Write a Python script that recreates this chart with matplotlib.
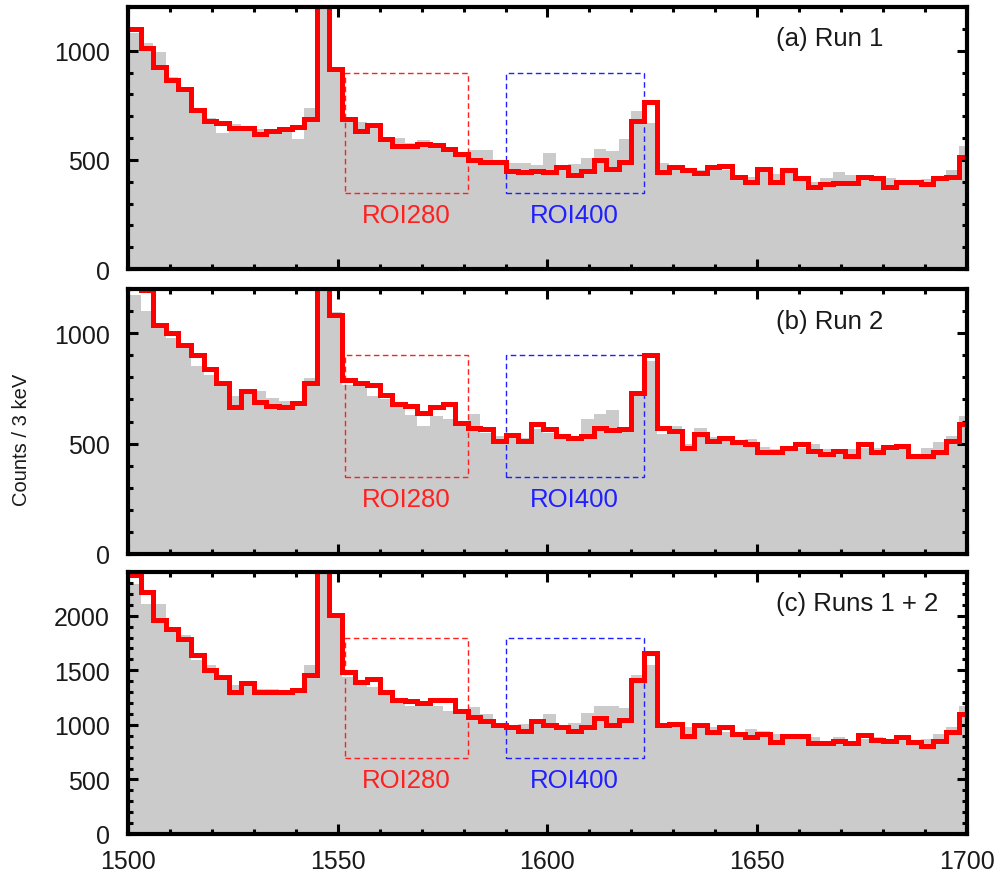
import numpy as np
import matplotlib
matplotlib.use("Agg")
import matplotlib.pyplot as plt
from matplotlib.ticker import MultipleLocator
from matplotlib.patches import Rectangle

plt.rcParams['font.family'] = ['Liberation Sans', 'DejaVu Sans']

# 3 keV bins from 1500 keV
edges = np.arange(1500, 1702, 3)

# Run 1
red_a = [1100, 1010, 925, 865, 825, 730, 680, 670, 645, 645, 618, 632, 643, 651, 685,
         1600, 915, 689, 632, 660, 595, 565, 565, 572, 568, 550, 527, 500, 490, 490,
         450, 442, 450, 442, 465, 430, 450, 497, 457, 490, 677, 765, 445, 467, 455,
         440, 467, 470, 422, 400, 460, 400, 452, 415, 377, 390, 392, 392, 420, 415,
         377, 400, 400, 390, 415, 422, 515]
gray_a = [1080, 1037, 995, 880, 835, 738, 692, 625, 662, 655, 640, 618, 632, 595, 738,
          1700, 910, 682, 675, 652, 592, 600, 578, 590, 572, 535, 520, 545, 545, 497,
          485, 485, 475, 532, 475, 482, 510, 550, 540, 595, 725, 670, 485, 460, 440,
          452, 475, 452, 415, 422, 460, 437, 452, 422, 400, 415, 445, 430, 422, 425,
          415, 400, 400, 410, 410, 455, 565]

# Run 2
red_b = [1250, 1195, 1037, 1000, 947, 900, 840, 775, 665, 737, 690, 670, 665, 685, 775,
         1600, 1082, 790, 775, 765, 722, 680, 670, 640, 665, 680, 595, 572, 565, 512,
         540, 512, 590, 565, 535, 525, 535, 572, 560, 565, 730, 900, 572, 557, 482,
         542, 512, 525, 505, 500, 460, 460, 482, 500, 467, 455, 467, 445, 500, 460,
         485, 490, 445, 445, 460, 512, 587]
gray_b = [1172, 1100, 1022, 977, 955, 850, 812, 767, 715, 745, 737, 707, 692, 692, 797,
          1700, 1097, 767, 760, 715, 700, 670, 630, 580, 625, 610, 587, 632, 550, 535,
          535, 527, 565, 550, 527, 535, 610, 635, 650, 572, 737, 872, 542, 580, 497,
          572, 530, 512, 505, 520, 485, 475, 490, 482, 497, 475, 475, 475, 482, 482,
          475, 490, 452, 482, 505, 535, 625]

# Runs 1 + 2
red_c = [2370, 2217, 1957, 1880, 1789, 1636, 1505, 1437, 1300, 1382, 1300, 1300, 1300, 1321, 1453,
         3200, 2003, 1483, 1391, 1422, 1300, 1223, 1215, 1199, 1223, 1223, 1125, 1070, 1034, 994,
         979, 942, 1034, 994, 979, 942, 979, 1064, 1003, 1046, 1407, 1657, 994, 1009, 902,
         994, 933, 979, 917, 887, 917, 841, 902, 902, 832, 832, 850, 832, 911, 862,
         856, 887, 841, 810, 856, 933, 1101]
gray_c = [2293, 2110, 2110, 1896, 1820, 1590, 1544, 1407, 1361, 1361, 1330, 1330, 1315, 1321, 1544,
          3400, 1988, 1437, 1361, 1346, 1284, 1208, 1177, 1193, 1177, 1131, 1131, 1162, 1101, 1009,
          994, 1009, 1015, 1095, 985, 1015, 1107, 1177, 1177, 1156, 1453, 1544, 979, 979, 979,
          1009, 979, 933, 933, 963, 948, 917, 887, 887, 887, 856, 887, 856, 872, 887,
          872, 887, 841, 872, 917, 979, 1177]

panel_titles = ["(a) Run 1", "(b) Run 2", "(c) Runs 1 + 2"]
y_max = [1200, 1200, 2400]
y_major = [500, 500, 500]
y_minor = [100, 100, 100]

# regions of interest (keV) and box heights (counts)
roi_names = ["ROI280", "ROI400"]
roi_lo = [1551.7, 1590.0]
roi_hi = [1581.0, 1623.0]
roi_colors = ["#ff2020", "#2020ff"]
box_y = [(350, 900), (350, 900), (700, 1800)]

reds = [red_a, red_b, red_c]
grays = [gray_a, gray_b, gray_c]

fig = plt.figure(figsize=(10.02, 8.78), dpi=100)
W, H = 1002, 878
panel_px = [(8, 270), (290, 555), (573, 835)]
left_px, right_px = 128, 967

text_col = "#1a1a1a"
for i in range(3):
    top, bot = panel_px[i]
    ax = fig.add_axes([left_px / W, 1 - bot / H, (right_px - left_px) / W, (bot - top) / H])
    ax.stairs(grays[i], edges, fill=True, color="#cbcbcb", zorder=1)
    for name, lo, hi, col in zip(roi_names, roi_lo, roi_hi, roi_colors):
        y0, y1 = box_y[i]
        ax.add_patch(Rectangle((lo, y0), hi - lo, y1 - y0, fill=False, ec=col,
                               lw=1.0, ls=(0, (4, 2.5)), zorder=2))
        ax.text((lo + hi) / 2, y0 - 0.086 * y_max[i], name, color=col, fontsize=18.5,
                ha="center", va="center", zorder=3)
    ax.stairs(reds[i], edges, color="#ff0000", lw=3.6, baseline=None, zorder=4)
    ax.set_xlim(1500, 1700)
    ax.set_ylim(0, y_max[i])
    ax.xaxis.set_major_locator(MultipleLocator(50))
    ax.xaxis.set_minor_locator(MultipleLocator(10))
    ax.yaxis.set_major_locator(MultipleLocator(y_major[i]))
    ax.yaxis.set_minor_locator(MultipleLocator(y_minor[i]))
    ax.tick_params(which="both", direction="in", top=True, right=True, width=2.2,
                   labelsize=18, labelcolor=text_col, color="black")
    ax.tick_params(which="major", length=7)
    ax.tick_params(which="minor", length=3.5)
    ax.tick_params(axis="y", which="major", pad=13)
    ax.tick_params(axis="x", which="major", pad=11)
    for s in ax.spines.values():
        s.set_linewidth(3.0)
        s.set_zorder(5)
    if i < 2:
        ax.tick_params(labelbottom=False)
    ax.text(0.772, 0.88, panel_titles[i], transform=ax.transAxes, fontsize=18.5,
            ha="left", va="center", color=text_col)

fig.text(22 / W, 1 - 440 / H, "Counts / 3 keV", rotation=90, fontsize=14.5,
         ha="center", va="center", color=text_col)

fig.savefig("out.png", dpi=100)
